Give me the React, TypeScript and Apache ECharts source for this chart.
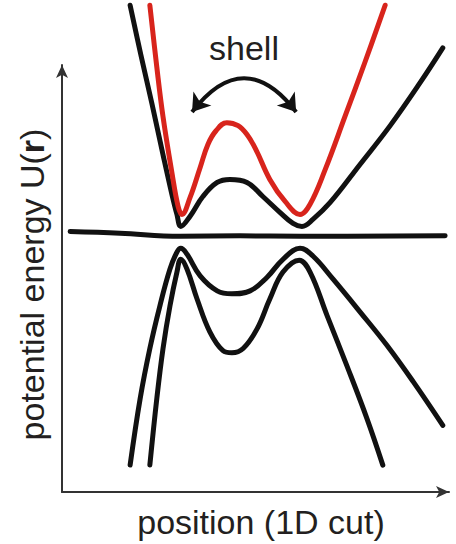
import React, { useEffect, useRef } from "react";
import * as echarts from "echarts";

// Schematic units: position 0..100 along the x axis, energy 0..100 along the y axis
const blackUpper: [number, number][] = [
  [17.6, 114.0], [20.4, 102.3], [23.3, 90.7], [26.1, 79.0], [28.4, 69.7], [29.7, 65.0],
  [30.7, 62.2], [33.1, 64.6], [36.4, 69.2], [40.1, 72.5], [43.4, 73.2], [47.8, 72.5],
  [51.9, 69.2], [56.3, 65.5], [59.7, 62.9], [62.0, 62.2], [64.9, 63.9], [69.3, 67.8],
  [77.0, 76.7], [84.8, 85.8], [92.5, 95.8], [98.4, 104.0],
];

const redUpper: [number, number][] = [
  [22.7, 114.0], [24.5, 99.5], [26.1, 87.9], [28.4, 74.8], [30.0, 66.9], [31.0, 65.0],
  [33.1, 69.0], [35.7, 76.0], [37.7, 81.4], [39.8, 84.6], [42.6, 86.5], [45.5, 85.8],
  [47.8, 83.7], [50.1, 80.2], [53.7, 73.2], [57.6, 68.1], [61.5, 65.0], [64.1, 67.4],
  [68.0, 75.5], [73.1, 87.9], [78.3, 100.7], [83.5, 114.0],
];

const flatLine: [number, number][] = [
  [2.1, 61.0], [15.0, 60.6], [30.5, 59.9], [46.0, 60.0], [61.5, 59.9], [99.0, 60.0],
];

const shallowLower: [number, number][] = [
  [17.6, 6.3], [20.2, 21.9], [22.7, 33.6], [25.3, 43.6], [27.9, 52.2], [29.7, 56.2],
  [30.7, 57.1], [32.3, 55.7], [35.7, 50.6], [40.1, 47.1], [43.9, 46.4], [48.6, 47.1],
  [53.0, 50.3], [57.1, 54.5], [61.5, 57.1], [64.9, 55.2], [70.0, 49.9], [77.0, 42.2],
  [84.0, 34.3], [90.7, 25.9], [98.4, 15.6],
];

const deepLower: [number, number][] = [
  [22.7, 6.3], [24.5, 21.9], [26.1, 33.6], [27.9, 43.6], [29.7, 51.5], [30.7, 54.5],
  [32.3, 52.2], [34.9, 45.2], [38.2, 37.5], [41.6, 33.1], [43.9, 32.6], [46.8, 33.6],
  [50.4, 38.2], [53.7, 45.2], [57.1, 51.5], [61.3, 54.3], [64.1, 51.5], [68.5, 41.3],
  [73.6, 29.6], [78.8, 17.2], [82.9, 6.3],
];

const shellArrow: [number, number][] = [
  [33.6, 89.0], [60.5, 89.0],
];

const FONT = "'Liberation Sans', Arial, Helvetica, sans-serif";
const TEXT = "#231f20";
const INK = "#111111";
const RED = "#d8241c";

function curve(name: string, data: [number, number][], color: string) {
  return {
    name,
    type: "line",
    data,
    showSymbol: false,
    symbol: "none",
    smooth: 0.4,
    clip: false,
    silent: true,
    lineStyle: { color, width: 5, cap: "round", join: "round" },
  };
}

export default function App() {
  const ref = useRef<HTMLDivElement>(null);
  useEffect(() => {
    const chart = echarts.init(ref.current!, null, { renderer: "svg" });
    chart.setOption({
      animation: false,
      backgroundColor: "#ffffff",
      grid: { left: 62, right: 7, top: 65, bottom: 50, containLabel: false },
      xAxis: {
        type: "value",
        min: 0,
        max: 100,
        name: "position (1D cut)",
        nameLocation: "middle",
        nameGap: 13,
        nameTextStyle: { fontFamily: FONT, fontSize: 34, color: TEXT, padding: [0, 0, 0, 11] },
        axisLine: {
          show: true,
          symbol: ["none", "arrow"],
          symbolSize: [9, 13],
          lineStyle: { color: "#333", width: 2 },
        },
        axisTick: { show: false },
        axisLabel: { show: false },
        splitLine: { show: false },
      },
      yAxis: {
        type: "value",
        min: 0,
        max: 100,
        name: "potential energy U({b|r})",
        nameLocation: "middle",
        nameGap: 13,
        nameTextStyle: {
          fontFamily: FONT,
          fontSize: 34,
          color: TEXT,
          padding: [0, 12, 0, 0],
          rich: { b: { fontFamily: FONT, fontSize: 34, color: TEXT, fontWeight: "bold" } },
        },
        axisLine: {
          show: true,
          symbol: ["none", "arrow"],
          symbolSize: [9, 13],
          lineStyle: { color: "#333", width: 2 },
        },
        axisTick: { show: false },
        axisLabel: { show: false },
        splitLine: { show: false },
      },
      series: [
        curve("flat", flatLine, INK),
        curve("shallow lower", shallowLower, INK),
        curve("deep lower", deepLower, INK),
        curve("black upper", blackUpper, INK),
        curve("red upper", redUpper, RED),
        {
          name: "shell",
          type: "lines",
          coordinateSystem: "cartesian2d",
          silent: true,
          symbol: ["arrow", "arrow"],
          symbolSize: 17,
          lineStyle: { color: INK, width: 4, curveness: 0.65, opacity: 1 },
          data: [{ coords: shellArrow }],
        },
      ],
      graphic: [
        {
          type: "text",
          x: 244,
          y: 48,
          style: {
            text: "shell",
            fontFamily: FONT,
            fontSize: 34,
            fill: TEXT,
            textAlign: "center",
            textVerticalAlign: "middle",
            align: "center",
            verticalAlign: "middle",
          },
        },
      ],
    });
    return () => chart.dispose();
  }, []);
  return (
    <div
      ref={ref}
      style={{ position: "absolute", left: 0, top: 0, width: 456, height: 544 }}
    />
  );
}
